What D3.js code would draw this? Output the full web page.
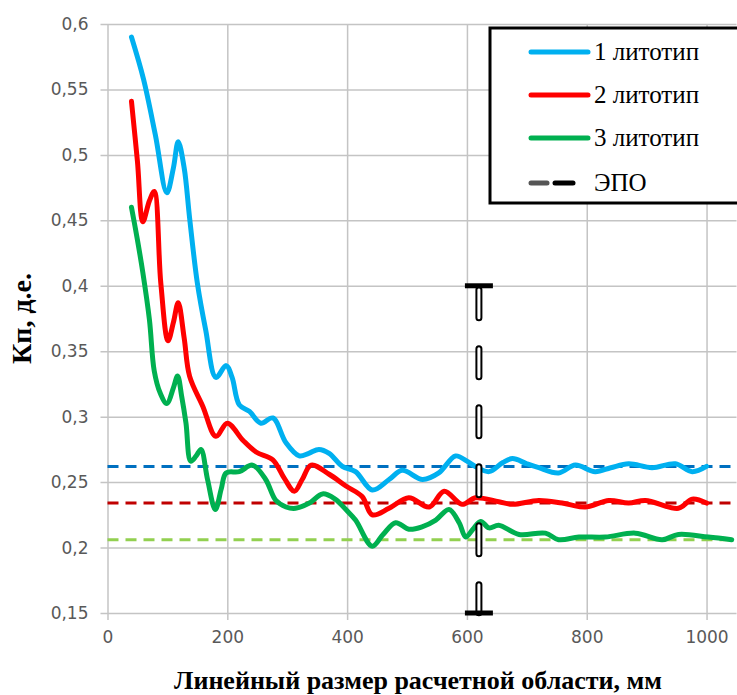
<!DOCTYPE html>
<html><head><meta charset="utf-8">
<script src="https://cdn.jsdelivr.net/npm/d3@7/dist/d3.min.js"></script>
<style>html,body{margin:0;padding:0;background:#fff;}svg{display:block;}</style>
</head><body>
<svg id="chart" width="737" height="695"></svg>
<script>
// ---- data ----
const seriesNames = ["1 литотип", "2 литотип", "3 литотип"];
const seriesColors = ["#00b0f0", "#ff0000", "#00b050"];
const s1x = [40,60,80,99,110,118,128,137,150,164,181,198,208,220,237,256,276,298,320,336,353,370,392,414,442,470,492,526,553,581,600,614,637,660,676,700,720,753,781,814,840,870,909,948,976,1000];
const s1y = [.590,.558,.515,.471,.490,.510,.490,.452,.402,.366,.330,.339,.330,.309,.304,.295,.299,.280,.270,.272,.275,.272,.262,.258,.244,.252,.259,.252,.257,.270,.266,.262,.258,.265,.268,.264,.261,.257,.263,.258,.261,.264,.261,.264,.258,.262];
const s2x = [40,50,59,70,78,89,101,110,118,128,137,159,181,200,226,248,276,295,312,325,340,370,398,425,442,470,503,537,562,592,614,653,676,720,759,798,837,870,898,953,976,1000];
const s2y = [.541,.495,.449,.465,.472,.402,.358,.372,.387,.360,.331,.308,.285,.295,.282,.273,.267,.253,.243,.252,.263,.256,.247,.239,.225,.230,.238,.231,.243,.233,.238,.235,.233,.236,.234,.231,.236,.234,.236,.230,.237,.234];
const s3x = [40,50,59,70,78,88,99,110,117,124,131,139,148,156,167,180,190,198,220,242,264,281,298,314,337,359,380,398,414,442,460,481,503,526,548,570,587,598,610,623,637,653,687,731,753,787,831,881,926,953,1003,1042];
const s3y = [.460,.435,.410,.374,.335,.318,.310,.322,.331,.315,.295,.266,.270,.275,.252,.229,.245,.257,.258,.263,.252,.236,.231,.230,.234,.241,.237,.229,.221,.201,.210,.219,.214,.216,.221,.229,.219,.208,.214,.220,.215,.217,.210,.211,.206,.208,.208,.211,.206,.210,.208,.206];
const refValues = [0.262, 0.234, 0.206];
const refColors = ["#0070c0", "#c00000", "#92d050"];
const epoLabel = "ЭПО";
const epoX = 620, epoLow = 0.15, epoHigh = 0.40;
const xTicks = [0, 200, 400, 600, 800, 1000];
const yTicks = [0.15, 0.2, 0.25, 0.3, 0.35, 0.4, 0.45, 0.5, 0.55, 0.6];
const xTitle = "Линейный размер расчетной области, мм";
const yTitle = "Кп, д.е.";

// ---- layout ----
const svg = d3.select("#chart");
const L = 107.5, R = 736.5, T = 24, B = 613;
const x = d3.scaleLinear().domain([0, 1050]).range([L, R]);
const y = d3.scaleLinear().domain([0.15, 0.6]).range([B, T]);
const fmt = v => String(+v.toFixed(2)).replace(".", ",");
const tickFont = "DejaVu Sans, Verdana, sans-serif";
const serif = "Liberation Serif, Times New Roman, serif";

// grid + axes
const gy = svg.append("g").attr("transform", `translate(${L},0)`)
  .call(d3.axisLeft(y).tickValues(yTicks).tickFormat(fmt).tickSizeOuter(0));
gy.select(".domain").remove();
gy.selectAll(".tick line").attr("x1", -7).attr("x2", R - L).attr("stroke", "#c4c4c4").attr("stroke-width", 1.5);
gy.selectAll(".tick text").attr("x", -19).attr("font-family", tickFont)
  .attr("font-size", 17).attr("fill", "#595959");

const gx = svg.append("g").attr("transform", `translate(0,${B})`)
  .call(d3.axisBottom(x).tickValues(xTicks).tickFormat(d => String(d)).tickSizeOuter(0));
gx.select(".domain").remove();
gx.selectAll(".tick line").attr("y1", 7).attr("y2", -(B - T)).attr("stroke", "#c4c4c4").attr("stroke-width", 1.5);
gx.selectAll(".tick text").attr("y", 18).attr("font-family", tickFont)
  .attr("font-size", 17).attr("fill", "#595959");

// reference dashed lines
refValues.forEach((v, i) => {
  svg.append("line").attr("x1", x(0)).attr("x2", R).attr("y1", y(v)).attr("y2", y(v))
    .attr("stroke", refColors[i]).attr("stroke-width", 3).attr("stroke-dasharray", "11 7");
});

// series
const line = d3.line().x(d => x(d[0])).y(d => y(d[1])).curve(d3.curveCatmullRom.alpha(0.5));
const series = [[s1x, s1y], [s2x, s2y], [s3x, s3y]];
series.forEach((s, i) => {
  const pts = s[0].map((xv, j) => [xv, s[1][j]]);
  svg.append("path").datum(pts).attr("d", line).attr("fill", "none")
    .attr("stroke", seriesColors[i]).attr("stroke-width", 5).attr("stroke-linejoin", "round").attr("stroke-linecap", "round");
});

// ЭПО line
const ex = x(epoX);
svg.append("line").attr("x1", ex).attr("x2", ex).attr("y1", y(epoHigh) + 4).attr("y2", y(epoLow))
  .attr("stroke", "#000").attr("stroke-width", 7).attr("stroke-dasharray", "28 31").attr("stroke-linecap", "round");
svg.append("line").attr("x1", ex).attr("x2", ex).attr("y1", y(epoHigh) + 4).attr("y2", y(epoLow))
  .attr("stroke", "#fff").attr("stroke-width", 3).attr("stroke-dasharray", "28 31").attr("stroke-linecap", "round");
[epoHigh, epoLow].forEach(v => {
  svg.append("line").attr("x1", ex - 14).attr("x2", ex + 14).attr("y1", y(v)).attr("y2", y(v))
    .attr("stroke", "#000").attr("stroke-width", 5);
});

// titles
svg.append("text").attr("x", 418).attr("y", 689).attr("text-anchor", "middle")
  .attr("font-family", serif).attr("font-weight", "bold").attr("font-size", 26)
  .text(xTitle);
svg.append("text").attr("transform", `translate(31,${(T + B) / 2}) rotate(-90)`).attr("text-anchor", "middle")
  .attr("font-family", serif).attr("font-weight", "bold").attr("font-size", 28)
  .text(yTitle);

// legend
const lg = svg.append("g");
lg.append("rect").attr("x", 490).attr("y", 28).attr("width", 260).attr("height", 175)
  .attr("fill", "#fff").attr("stroke", "#000").attr("stroke-width", 3);
const rowsY = [52, 95, 138, 183];
seriesNames.forEach((n, i) => {
  lg.append("line").attr("x1", 531).attr("x2", 588).attr("y1", rowsY[i]).attr("y2", rowsY[i])
    .attr("stroke", seriesColors[i]).attr("stroke-width", 5).attr("stroke-linecap", "round");
  lg.append("text").attr("x", 594).attr("y", rowsY[i] + 8).attr("font-family", serif)
    .attr("font-size", 25).text(n);
});
lg.append("line").attr("x1", 531).attr("x2", 547).attr("y1", rowsY[3]).attr("y2", rowsY[3])
  .attr("stroke", "#555").attr("stroke-width", 5).attr("stroke-linecap", "round");
lg.append("line").attr("x1", 555).attr("x2", 573).attr("y1", rowsY[3]).attr("y2", rowsY[3])
  .attr("stroke", "#000").attr("stroke-width", 5).attr("stroke-linecap", "round");
lg.append("text").attr("x", 594).attr("y", rowsY[3] + 8).attr("font-family", serif)
  .attr("font-size", 25).text(epoLabel);
</script>
</body></html>
